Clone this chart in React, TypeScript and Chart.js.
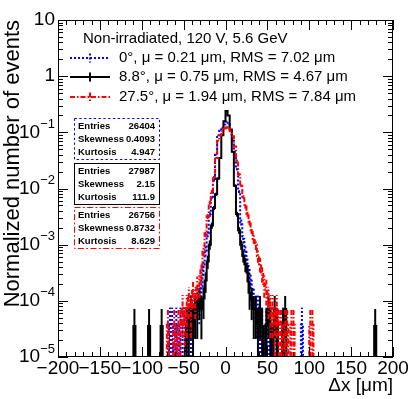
import React, { useEffect, useRef } from 'react';
import { Chart, registerables } from 'chart.js';

Chart.register(...registerables);

// ---------- binning / axes ----------
const BIN_LOW = -200;
const BIN_WIDTH = 2.5;
const N_BINS = 160;
const X_MIN = -200;
const X_MAX = 200;
const Y_MIN = 1e-5;
const Y_MAX = 10;

const xTickValues = [-200, -150, -100, -50, 0, 50, 100, 150, 200];
const xTickLabels = ['\u2212200', '\u2212150', '\u2212100', '\u221250', '0', '50', '100', '150', '200'];
const yTickExponents = [1, 0, -1, -2, -3, -4, -5];

// ---------- entries / stats ----------
const statEntries = [26404, 27987, 26756];
const statSkewness = ['0.4093', '2.15', '0.8732'];
const statKurtosis = ['4.947', '111.9', '8.629'];

const legendHeader = 'Non-irradiated, 120 V, 5.6 GeV';
const legendLabels = [
  '0\u00b0, \u03bc = 0.21 \u03bcm, RMS = 7.02 \u03bcm',
  '8.8\u00b0, \u03bc = 0.75 \u03bcm, RMS = 4.67 \u03bcm',
  '27.5\u00b0, \u03bc = 1.94 \u03bcm, RMS = 7.84 \u03bcm',
];

// ---------- 0 deg (blue) ----------
const blueCoreFrom = -31.25; // centre of first core bin
const blueCore = [
  1.0e-4, 1.8e-4, 4.0e-4, 7.9e-4, 1.6e-3, 3.5e-3, 7.1e-3, 1.4e-2, 4.0e-2, 8.9e-2,
  0.107, 0.12, 0.138, 0.158, 0.141, 0.107, 0.071, 0.045, 0.022, 8.9e-3,
  2.5e-3, 1.26e-3, 7.9e-4, 4.5e-4, 2.8e-4, 1.6e-4,
];
const blueTailX = [-66.25, -63.75, -58.75, -53.75, -51.25, -48.75, -43.75, -41.25, -38.75, -36.25, -33.75,
  33.75, 36.25, 38.75, 41.25, 43.75, 48.75, 53.75, 61.25, 68.75, 91.25];
const blueTailEntries = [1, 1, 1, 1, 1, 1, 2, 1, 2, 2, 3, 3, 2, 2, 1, 1, 1, 1, 1, 1, 1];

// ---------- 8.8 deg (black) ----------
const blackCoreFrom = -28.75;
const blackCore = [
  7.1e-5, 1.1e-4, 2.3e-4, 5.0e-4, 1.0e-3, 2.2e-3, 4.5e-3, 7.9e-3, 1.5e-2, 3.5e-2,
  8.9e-2, 0.158, 0.24, 0.2, 0.112, 0.045, 0.0112, 3.5e-3, 1.8e-3, 1.0e-3,
  6.3e-4, 4.5e-4, 3.2e-4, 1.4e-4,
];
const blackTailX = [-108.75, -91.25, -76.25, -46.25, -43.75, -41.25, -38.75, -36.25, -33.75, -31.25,
  31.25, 33.75, 36.25, 38.75, 41.25, 43.75, 48.75, 51.25, 53.75, 58.75, 61.25, 68.75, 71.25, 178.75];
const blackTailEntries = [1, 1, 1, 1, 1, 2, 1, 2, 2, 3, 3, 2, 2, 1, 2, 1, 1, 2, 1, 2, 1, 1, 2, 1];

// ---------- 27.5 deg (red) ----------
const redCoreFrom = -31.25;
const redCore = [
  2.0e-4, 3.5e-4, 7.9e-4, 1.6e-3, 3.2e-3, 5.6e-3, 8.9e-3, 1.6e-2, 3.5e-2, 7.1e-2,
  8.9e-2, 0.105, 0.117, 0.126, 0.12, 0.105, 0.085, 0.056, 0.0316, 0.0178,
  0.0112, 7.1e-3, 4.8e-3, 3.5e-3, 2.5e-3, 1.8e-3, 1.26e-3, 1.0e-3, 6.3e-4, 4.5e-4,
  3.2e-4, 2.0e-4, 1.6e-4,
];
const redTailX = [-68.75, -61.25, -56.25, -53.75, -51.25, -48.75, -46.25, -43.75, -41.25, -38.75, -36.25, -33.75,
  51.25, 53.75, 56.25, 58.75, 61.25, 63.75, 66.25, 71.25, 73.75, 78.75, 81.25, 101.25, 103.75];
const redTailEntries = [1, 1, 1, 1, 2, 1, 2, 3, 2, 4, 3, 5, 3, 2, 2, 1, 2, 1, 1, 1, 1, 1, 1, 1, 1];

const FONT = '"Liberation Sans", Arial, Helvetica, sans-serif';

type Pt = { x: number; y: number };

function buildSeries(coreFrom: number, core: number[], tailX: number[], tailN: number[], entries: number): Pt[] {
  const pts: Pt[] = [];
  for (let k = 0; k < N_BINS; k++) {
    const c = BIN_LOW + BIN_WIDTH * (k + 0.5);
    let v = 0;
    const ci = Math.round((c - coreFrom) / BIN_WIDTH);
    if (ci >= 0 && ci < core.length) v = core[ci];
    const ti = tailX.findIndex((t) => Math.abs(t - c) < 0.01);
    if (ti >= 0) v = tailN[ti] / entries;
    pts.push({ x: c, y: v });
  }
  return pts;
}

const styles = [
  { color: '#0000ff', dash: [2, 2] },
  { color: '#000000', dash: [] as number[] },
  { color: '#ff0000', dash: [5, 2, 1.5, 2] },
];

export default function App() {
  const ref = useRef<HTMLCanvasElement | null>(null);

  useEffect(() => {
    document.body.style.margin = '0';
    const canvas = ref.current!;
    const series = [
      buildSeries(blueCoreFrom, blueCore, blueTailX, blueTailEntries, statEntries[0]),
      buildSeries(blackCoreFrom, blackCore, blackTailX, blackTailEntries, statEntries[1]),
      buildSeries(redCoreFrom, redCore, redTailX, redTailEntries, statEntries[2]),
    ];

    const errorBars = {
      id: 'errorBars',
      afterDatasetDraw(chart: any, args: any) {
        const ds = chart.data.datasets[args.index];
        const { ctx, chartArea: a, scales } = chart;
        const xs = scales.x, ys = scales.y;
        ctx.save();
        ctx.beginPath();
        ctx.rect(a.left, a.top, a.right - a.left, a.bottom - a.top + 1);
        ctx.clip();
        ctx.strokeStyle = ds.borderColor;
        ctx.lineWidth = ds.borderWidth;
        ctx.setLineDash(ds.borderDash || []);
        for (const p of ds.rawPts as Pt[]) {
          if (p.y <= 0) continue;
          const e = Math.sqrt(p.y / ds.entries);
          const lo = p.y - e;
          const px = xs.getPixelForValue(p.x);
          const yTop = ys.getPixelForValue(p.y + e);
          const yBot = lo > Y_MIN ? ys.getPixelForValue(lo) : a.bottom;
          ctx.beginPath();
          ctx.moveTo(px, yBot);
          ctx.lineTo(px, yTop);
          ctx.stroke();
        }
        ctx.restore();
      },
    };

    const decorations = {
      id: 'decorations',
      afterDraw(chart: any) {
        const { ctx, chartArea: a, scales } = chart;
        const xs = scales.x, ys = scales.y;
        ctx.save();
        ctx.setLineDash([]);
        ctx.strokeStyle = '#000';
        ctx.lineWidth = 1;
        // frame
        ctx.strokeRect(a.left + 0.5, a.top + 0.5, a.right - a.left - 1, a.bottom - a.top - 1);
        // x ticks (bottom and top)
        ctx.beginPath();
        for (let v = X_MIN; v <= X_MAX; v += 10) {
          const px = Math.round(xs.getPixelForValue(v)) + 0.5;
          const major = v % 50 === 0;
          const len = major ? 10 : 5;
          ctx.moveTo(px, a.bottom);
          ctx.lineTo(px, a.bottom - len);
          ctx.moveTo(px, a.top);
          ctx.lineTo(px, a.top + len);
        }
        // y ticks (left and right)
        for (let e = -5; e <= 1; e++) {
          for (let m = 1; m <= 9; m++) {
            const v = m * Math.pow(10, e);
            if (v < Y_MIN * 0.999 || v > Y_MAX * 1.001) continue;
            const py = Math.round(ys.getPixelForValue(v)) + 0.5;
            const len = m === 1 ? 10 : 5;
            ctx.moveTo(a.left, py);
            ctx.lineTo(a.left + len, py);
            ctx.moveTo(a.right, py);
            ctx.lineTo(a.right - len, py);
          }
        }
        ctx.stroke();

        // x tick labels
        ctx.fillStyle = '#000';
        ctx.font = `19px ${FONT}`;
        ctx.textAlign = 'center';
        ctx.textBaseline = 'middle';
        xTickValues.forEach((v, i) => {
          ctx.fillText(xTickLabels[i], xs.getPixelForValue(v), a.bottom + 12);
        });

        // y tick labels
        const xr = a.left - 3;
        yTickExponents.forEach((e) => {
          const py = ys.getPixelForValue(Math.pow(10, e));
          ctx.textBaseline = 'middle';
          if (e === 1 || e === 0) {
            ctx.font = `19px ${FONT}`;
            ctx.textAlign = 'right';
            ctx.fillText(e === 1 ? '10' : '1', xr, py);
          } else {
            const expTxt = '\u2212' + String(-e);
            ctx.font = `13px ${FONT}`;
            const we = ctx.measureText(expTxt).width;
            ctx.textAlign = 'right';
            ctx.fillText(expTxt, xr, py - 8);
            ctx.font = `19px ${FONT}`;
            ctx.fillText('10', xr - we, py);
          }
        });

        // axis titles
        ctx.font = `19px ${FONT}`;
        ctx.textAlign = 'right';
        ctx.textBaseline = 'middle';
        ctx.fillText('\u0394x [\u03bcm]', a.right, 386);
        ctx.save();
        ctx.translate(13, a.top);
        ctx.rotate(-Math.PI / 2);
        ctx.font = `22px ${FONT}`;
        ctx.textAlign = 'right';
        ctx.textBaseline = 'middle';
        ctx.fillText('Normalized number of events', 0, 0);
        ctx.restore();

        // legend
        ctx.font = `15px ${FONT}`;
        ctx.textAlign = 'left';
        ctx.textBaseline = 'middle';
        ctx.fillText(legendHeader, 83, 39);
        const rowY = [58, 77, 97];
        legendLabels.forEach((lab, i) => {
          const st = styles[i];
          ctx.strokeStyle = st.color;
          ctx.lineWidth = 2;
          ctx.setLineDash(st.dash);
          ctx.beginPath();
          ctx.moveTo(70, rowY[i]);
          ctx.lineTo(110, rowY[i]);
          ctx.moveTo(90, rowY[i] - 4.5);
          ctx.lineTo(90, rowY[i] + 4.5);
          ctx.stroke();
          ctx.setLineDash([]);
          ctx.fillStyle = '#000';
          ctx.fillText(lab, 119, rowY[i]);
        });

        // stat boxes
        const boxTop = [118, 163, 207];
        const bx = 74, bw = 85, bh = 41;
        boxTop.forEach((t, i) => {
          const st = styles[i];
          ctx.fillStyle = '#fff';
          ctx.fillRect(bx, t, bw, bh);
          ctx.strokeStyle = st.color;
          ctx.lineWidth = 1;
          ctx.setLineDash(st.dash.length ? st.dash.map((d) => d * 1.2) : []);
          ctx.strokeRect(bx + 0.5, t + 0.5, bw, bh);
          ctx.setLineDash([]);
          ctx.fillStyle = '#000';
          ctx.font = `bold 9.5px ${FONT}`;
          ctx.textBaseline = 'middle';
          const rows = [
            ['Entries', String(statEntries[i])],
            ['Skewness', statSkewness[i]],
            ['Kurtosis', statKurtosis[i]],
          ];
          rows.forEach((r, j) => {
            const y = t + 8.5 + j * 12.7;
            ctx.textAlign = 'left';
            ctx.fillText(r[0], bx + 4, y);
            ctx.textAlign = 'right';
            ctx.fillText(r[1], bx + bw - 4, y);
          });
        });
        ctx.restore();
      },
    };

    const order = [3, 2, 1];
    const chart = new Chart(canvas, {
      type: 'line',
      data: {
        datasets: series.map((pts, i) => ({
          data: pts.map((p) => ({ x: p.x, y: p.y > 0 ? p.y : Y_MIN })),
          rawPts: pts,
          entries: statEntries[i],
          borderColor: styles[i].color,
          borderDash: styles[i].dash,
          borderWidth: 2,
          stepped: 'middle',
          pointRadius: 0,
          fill: false,
          order: order[i],
        })) as any,
      },
      options: {
        animation: false,
        responsive: false,
        maintainAspectRatio: false,
        events: [],
        layout: { padding: { left: 58, right: 22, top: 20, bottom: 42 } },
        scales: {
          x: { type: 'linear', min: X_MIN, max: X_MAX, display: false },
          y: { type: 'logarithmic', min: Y_MIN, max: Y_MAX, display: false },
        },
        plugins: { legend: { display: false }, tooltip: { enabled: false } },
      },
      plugins: [errorBars, decorations],
    });
    return () => chart.destroy();
  }, []);

  return <canvas ref={ref} width={415} height={399} style={{ display: 'block', width: 415, height: 399 }} />;
}
